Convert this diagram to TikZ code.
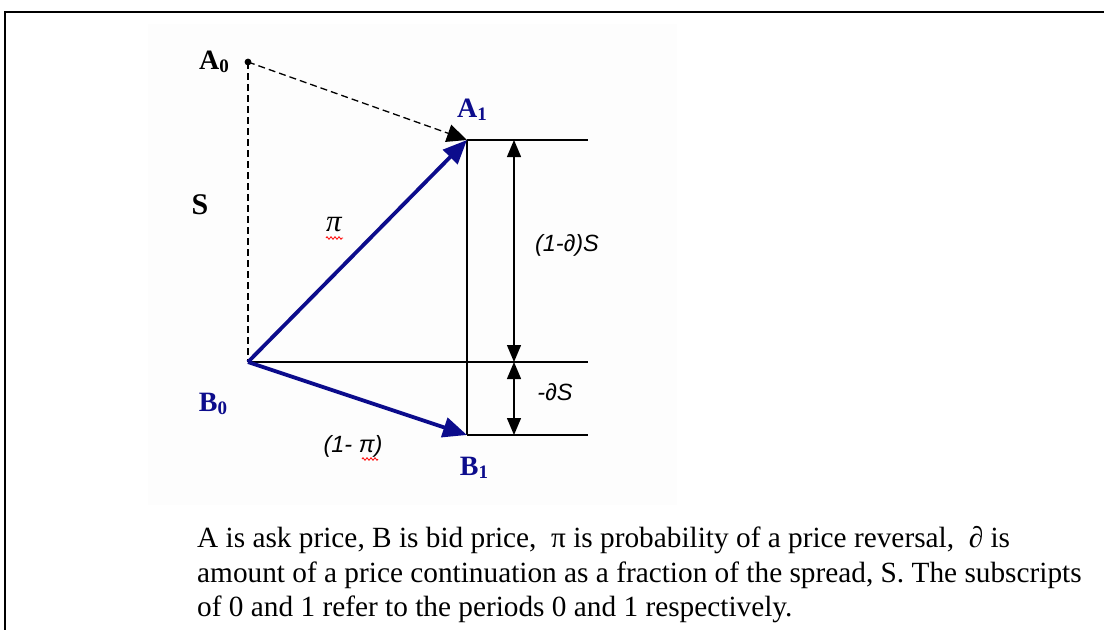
\documentclass[tikz,border=0pt]{standalone}
\usepackage{fontspec}
\setmainfont{Liberation Serif}
\newfontfamily\labsans{Liberation Sans}
\usetikzlibrary{arrows.meta,decorations.pathmorphing}
\definecolor{navy}{RGB}{12,12,140}
\definecolor{panelbg}{RGB}{253,253,253}
\tikzset{
  guide/.style={line width=1.4pt, black},
  dashline/.style={line width=1.3pt, dash pattern=on 7pt off 4pt},
  bluearrow/.style={line width=3.8pt, navy, -{Triangle[length=24pt,width=20pt]}},
  dimarrow/.style={line width=1.3pt, {Triangle[length=17pt,width=14pt]}-{Triangle[length=17pt,width=14pt]}},
  boldlab/.style={font=\fontsize{28}{28}\selectfont\bfseries, inner sep=0pt},
  bluelab/.style={boldlab, text=navy},
  formlab/.style={font=\labsans\itshape\fontsize{23.5}{23.5}\selectfont, inner sep=0pt},
  captionline/.style={font=\fontsize{29.3}{29.3}\selectfont, anchor=base west, inner sep=0pt},
  squiggle/.style={red, line width=0.8pt, decorate, decoration={zigzag, segment length=4pt, amplitude=1.3pt}}
}
\newcommand{\subsc}[1]{\raisebox{-3pt}{\fontsize{19}{19}\selectfont #1}}
\begin{document}
\begin{tikzpicture}[x=1pt,y=-1pt]
\useasboundingbox (0,0) rectangle (1104,630);
\fill[white] (0,0) rectangle (1104,630);
% frame
\draw[line width=2.4pt] (1104,12) -- (5,12) -- (5,630);
% faint panel
\fill[panelbg] (148,24) rectangle (677,505);

% points
\coordinate (A0) at (248,62);
\coordinate (A1) at (467,140);
\coordinate (B0) at (248,362);
\coordinate (B1) at (467,435);
\coordinate (RA) at (588,140);
\coordinate (RB) at (588,362);
\coordinate (RC) at (588,435);
\coordinate (D1) at (514,140);
\coordinate (D2) at (514,362);
\coordinate (D3) at (514,435);

% guide lines
\draw[guide] (A1) -- (RA);
\draw[guide] (B0) -- (RB);
\draw[guide] (B1) -- (RC);
\draw[guide] (A1) -- (B1);

% dashed lines
\draw[dashline] (A0) -- (B0);
\draw[dashline, -{Triangle[length=20pt,width=18pt]}] (A0) -- (A1);
\fill (A0) circle (3.4pt);

% blue arrows
\draw[bluearrow] (B0) -- (A1);
\draw[bluearrow] (B0) -- (B1);

% dimension arrows
\draw[dimarrow] (D1) -- (D2);
\draw[dimarrow] (D2) -- (D3);

% labels
\node[boldlab] (lA0) at (214,62) {A\subsc{0}};
\node[bluelab] (lA1) at (472,110) {A\subsc{1}};
\node[bluelab] (lB0) at (213,404) {B\subsc{0}};
\node[bluelab] (lB1) at (474,468) {B\subsc{1}};
\node[boldlab, font=\fontsize{30}{30}\selectfont\bfseries] (lS) at (200,205) {S};
\node[font=\itshape\fontsize{31}{31}\selectfont, inner sep=0pt] (lpi) at (334,225) {π};
\draw[squiggle] (326,238) -- (343,238);
\node[formlab] (l1pi) at (353,446) {(1- π)};
\draw[squiggle] (362,459) -- (378,459);
\node[formlab] (l1dS) at (567,245) {(1-∂)S};
\node[formlab] (ldS) at (555,392) {-∂S};

% caption
\node[captionline] (cap1) at (197,547) {A is ask price, B is bid price,\ \ π is probability of a price reversal,\ \ ∂ is};
\node[captionline] (cap2) at (197,582) {amount of a price continuation as a fraction of the spread, S. The subscripts};
\node[captionline] (cap3) at (197,616) {of 0 and 1 refer to the periods 0 and 1 respectively.};
\end{tikzpicture}
\end{document}
